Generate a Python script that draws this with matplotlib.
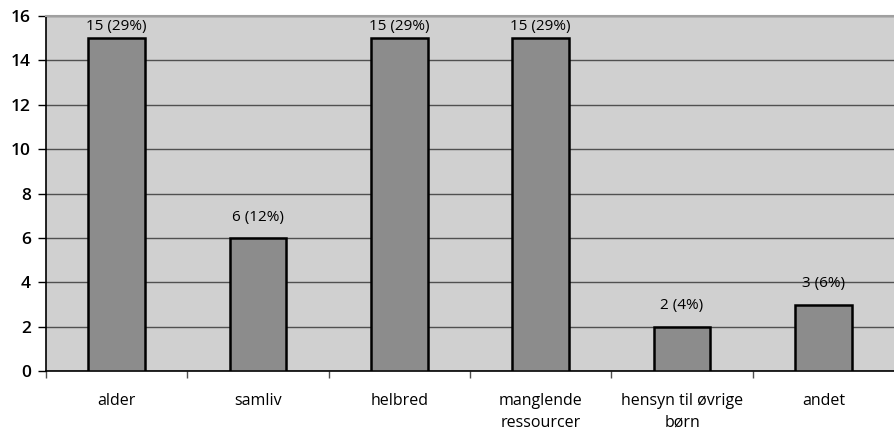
import numpy as np
import matplotlib.pyplot as plt

categories = ['alder', 'samliv', 'helbred', 'manglende\nressourcer',
              'hensyn til øvrige\nbørn', 'andet']
values = [15, 6, 15, 15, 2, 3]
labels = ['15 (29%)', '6 (12%)', '15 (29%)', '15 (29%)', '2 (4%)', '3 (6%)']

plt.rcParams['font.family'] = ['Open Sans', 'DejaVu Sans']

fig = plt.figure(figsize=(8.94, 4.34), dpi=100)
ax = fig.add_axes([0.0515, 0.145, 0.9485, 0.818])
ax.set_facecolor('#d0d0d0')

x = np.arange(len(categories))
ax.bar(x, values, width=0.4, color='#8c8c8c', edgecolor='black', linewidth=1.8, zorder=3)
# labels sit a little above the bar, but are kept inside the plot area at the top
for xi, v, lab in zip(x, values, labels):
    ax.text(xi, min(v + 0.6, 15.2), lab, ha='center', va='bottom', fontsize=11, zorder=4)

ax.set_xlim(-0.5, len(categories) - 0.5)
ax.set_ylim(0, 16)
ax.set_yticks(range(0, 17, 2))
ax.set_yticklabels([str(t) for t in range(0, 17, 2)], fontsize=12.5, fontweight='semibold')
ax.yaxis.grid(True, color='#505050', linewidth=1, zorder=0)

ax.set_xticks(x)
ax.set_xticklabels(categories, fontsize=11.5, linespacing=1.45)
ax.tick_params(axis='x', which='major', length=0, pad=16)
ax.set_xticks(np.arange(-0.5, len(categories) - 0.5, 1), minor=True)
ax.tick_params(axis='x', which='minor', length=5, width=1, color='#505050')
ax.tick_params(axis='y', length=6, width=1, color='black', pad=5)

ax.spines['right'].set_visible(False)
ax.spines['top'].set_color('#a0a0a0')
ax.spines['top'].set_linewidth(1.5)
ax.spines['left'].set_color('black')
ax.spines['bottom'].set_color('black')
ax.spines['left'].set_linewidth(1.2)
ax.spines['bottom'].set_linewidth(1.2)

fig.savefig('out.png', dpi=100)
